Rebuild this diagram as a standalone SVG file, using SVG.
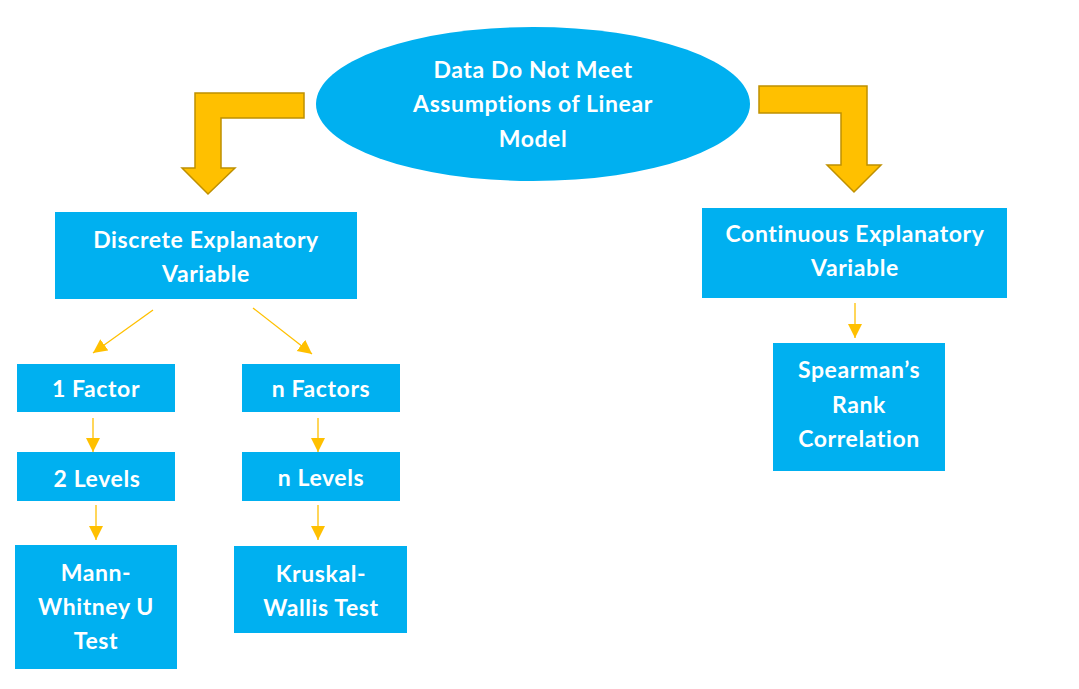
<svg xmlns="http://www.w3.org/2000/svg" width="1079" height="689" viewBox="0 0 1079 689">
<style>
.box{fill:#00B0F0}
.t{font-family:Lato,"Liberation Sans",sans-serif;font-weight:bold;font-size:23px;letter-spacing:0.6px;fill:#fff;text-anchor:middle}
.big{fill:#FFC000;stroke:#BF9000;stroke-width:1.5}
.c{stroke:#FFC000;stroke-width:1.3;fill:none;marker-end:url(#ah)}
</style>
<defs>
<marker id="ah" markerUnits="userSpaceOnUse" markerWidth="16" markerHeight="16" refX="14" refY="7" orient="auto">
<path d="M0,0 L14,7 L0,14 z" fill="#FFC000"/>
</marker>
</defs>
<rect width="1079" height="689" fill="#fff"/>
<g id="big-arrows">
<path class="big" d="M304,93 L304,118 L221,118 L221,168 L235,168 L208,194 L182,168 L195,168 L195,93 Z"/>
<path class="big" d="M759,86 L867,86 L867,165 L881,165 L854,192 L827,165 L841,165 L841,113 L759,113 Z"/>
</g>
<g id="root">
<ellipse cx="533" cy="104" rx="217" ry="77" fill="#00B0F0"/>
<text class="t" x="533" y="78">Data Do Not Meet</text>
<text class="t" x="533" y="112">Assumptions of Linear</text>
<text class="t" x="533" y="147">Model</text>
</g>
<g id="discrete">
<rect class="box" x="55" y="212" width="302" height="87"/>
<text class="t" x="206" y="248">Discrete Explanatory</text>
<text class="t" x="206" y="282">Variable</text>
</g>
<g id="continuous">
<rect class="box" x="702" y="208" width="305" height="90"/>
<text class="t" x="855" y="242">Continuous Explanatory</text>
<text class="t" x="855" y="276">Variable</text>
</g>
<g id="factor1">
<rect class="box" x="17" y="364" width="158" height="48"/>
<text class="t" x="96" y="397">1 Factor</text>
</g>
<g id="factorn">
<rect class="box" x="242" y="364" width="158" height="48"/>
<text class="t" x="321" y="397">n Factors</text>
</g>
<g id="levels2">
<rect class="box" x="17" y="452" width="158" height="49"/>
<text class="t" x="97" y="487">2 Levels</text>
</g>
<g id="levelsn">
<rect class="box" x="242" y="452" width="158" height="49"/>
<text class="t" x="321" y="486">n Levels</text>
</g>
<g id="mann">
<rect class="box" x="15" y="545" width="162" height="124"/>
<text class="t" x="96" y="581">Mann-</text>
<text class="t" x="96" y="615">Whitney U</text>
<text class="t" x="96" y="649">Test</text>
</g>
<g id="kruskal">
<rect class="box" x="234" y="546" width="173" height="87"/>
<text class="t" x="321" y="582">Kruskal-</text>
<text class="t" x="321" y="616">Wallis Test</text>
</g>
<g id="spearman">
<rect class="box" x="773" y="343" width="172" height="128"/>
<text class="t" x="859" y="378">Spearman’s</text>
<text class="t" x="859" y="413">Rank</text>
<text class="t" x="859" y="447">Correlation</text>
</g>
<g id="connectors">
<line class="c" x1="153" y1="310" x2="93" y2="353"/>
<line class="c" x1="253" y1="308" x2="312" y2="354"/>
<line class="c" x1="93" y1="418" x2="93" y2="452"/>
<line class="c" x1="96" y1="505" x2="96" y2="540"/>
<line class="c" x1="318" y1="418" x2="318" y2="452"/>
<line class="c" x1="318" y1="505" x2="318" y2="540"/>
<line class="c" x1="855" y1="303" x2="855" y2="338"/>
</g>
</svg>
